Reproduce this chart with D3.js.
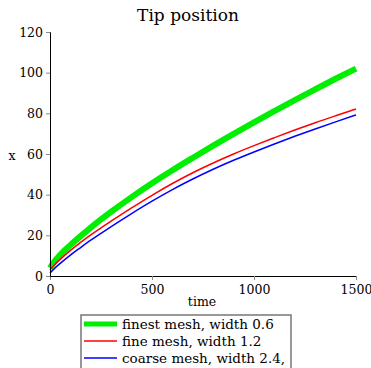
<!DOCTYPE html>
<html>
<head>
<meta charset="utf-8">
<script src="https://cdn.jsdelivr.net/npm/d3@7"></script>
<style>
  body { margin: 0; background: #fff; }
  text { font-family: "DejaVu Serif", serif; fill: #000; }
</style>
</head>
<body>
<svg width="371" height="368"></svg>
<script>
const svg = d3.select('svg');

// data
const times  = [0, 25, 50, 100, 150, 200, 250, 300, 400, 500, 600, 700, 800, 900, 1000, 1100, 1200, 1300, 1400, 1500];
const finest = [4, 7.6, 10.4, 15.2, 19.6, 23.8, 27.8, 31.6, 38.8, 45.6, 52, 58.1, 64.1, 69.9, 75.6, 81.1, 86.5, 91.8, 97, 102];
const fine   = [3, 5.8, 8.2, 12.6, 16.5, 20.2, 23.7, 27, 33.5, 39.7, 45.5, 50.8, 55.6, 60, 64.1, 68, 71.8, 75.4, 78.8, 82.1];
const coarse = [1.5, 4, 6.2, 10.3, 14, 17.6, 21, 24.3, 30.7, 36.8, 42.5, 47.7, 52.5, 56.9, 61, 64.9, 68.7, 72.3, 75.8, 79.2];

const seriesNames = ['finest mesh, width 0.6', 'fine mesh, width 1.2', 'coarse mesh, width 2.4,'];
const xTicks = [0, 500, 1000, 1500];
const yTicks = [0, 20, 40, 60, 80, 100, 120];

const series = [
  { name: seriesNames[0], values: finest, color: '#00ee00', width: 6 },
  { name: seriesNames[1], values: fine,   color: '#ff0000', width: 1.5 },
  { name: seriesNames[2], values: coarse, color: '#0000ff', width: 1.5 }
];

const x = d3.scaleLinear().domain([0, 1500]).range([50, 356]);
const y = d3.scaleLinear().domain([0, 120]).range([276, 32]);

//title
svg.append('text')
  .attr('x', 188).attr('y', 21)
  .attr('text-anchor', 'middle')
  .style('font-size', '17px')
  .text('Tip position');

//curves (clipped to plot area)
svg.append('clipPath').attr('id', 'clip')
  .append('rect').attr('x', 40).attr('y', 30).attr('width', 330).attr('height', 250);

const line = d3.line()
  .x(d => x(d[0]))
  .y(d => y(d[1]))
  .curve(d3.curveMonotoneX);

svg.append('g').attr('clip-path', 'url(#clip)')
  .selectAll('path')
  .data(series).enter()
  .append('path')
    .attr('d', s => line(times.map((t, i) => [t, s.values[i]])))
    .style('fill', 'none')
    .style('stroke', s => s.color)
    .style('stroke-width', s => s.width);

//axes
const xAxis = svg.append('g').attr('transform', `translate(0,${y(0)})`);
xAxis.call(d3.axisBottom(x).tickValues(d3.range(0, 1501, 100)).tickSize(3).tickFormat(''));
xAxis.call(d3.axisBottom(x).tickValues(xTicks).tickSize(4).tickFormat(d3.format('d')));
xAxis.selectAll('path').style('stroke', '#000');
xAxis.selectAll('line').style('stroke', '#888');
xAxis.selectAll('text').style('font-size', '12.5px').attr('dy', '0.9em')
  .style('font-family', '"DejaVu Serif", serif').style('fill', '#000');

const yAxis = svg.append('g').attr('transform', `translate(${x(0)},0)`);
yAxis.call(d3.axisLeft(y).tickValues(d3.range(0, 121, 10)).tickSize(3).tickFormat(''));
yAxis.call(d3.axisLeft(y).tickValues(yTicks).tickSize(4).tickFormat(d3.format('d')));
yAxis.selectAll('path').style('stroke', '#000');
yAxis.selectAll('line').style('stroke', '#888');
yAxis.selectAll('text').style('font-size', '12.5px')
  .style('font-family', '"DejaVu Serif", serif').style('fill', '#000');

//axis labels
svg.append('text')
  .attr('x', 202).attr('y', 306)
  .attr('text-anchor', 'middle')
  .style('font-size', '12.5px')
  .text('time');
svg.append('text')
  .attr('x', 12).attr('y', 160)
  .attr('text-anchor', 'middle')
  .style('font-size', '12.5px')
  .text('x');

//legend
svg.append('rect')
  .attr('x', 81).attr('y', 315)
  .attr('width', 210).attr('height', 60)
  .style('fill', '#fff')
  .style('stroke', '#777')
  .style('stroke-width', 1.5);

const legend = svg.selectAll('.leg')
  .data(series).enter()
  .append('g')
  .attr('transform', (d, i) => `translate(0,${324 + i * 17})`);
legend.append('line')
  .attr('x1', 84).attr('x2', 117)
  .attr('y1', 0).attr('y2', 0)
  .style('stroke', d => d.color)
  .style('stroke-width', d => d.width === 6 ? 5 : 1.5);
legend.append('text')
  .attr('x', 122).attr('y', 5)
  .style('font-size', '13.5px')
  .text(d => d.name);
</script>
</body>
</html>
